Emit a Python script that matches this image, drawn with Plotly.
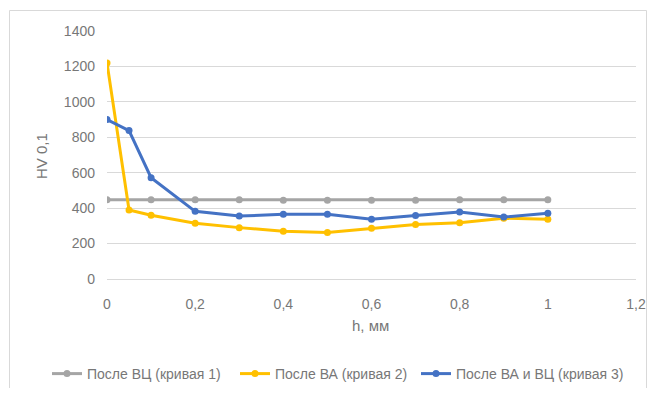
import plotly.graph_objects as go

h_gray = [0, 0.1, 0.2, 0.3, 0.4, 0.5, 0.6, 0.7, 0.8, 0.9, 1.0]
hv_gray = [447, 447, 447, 447, 445, 445, 445, 445, 447, 447, 447]

h_all = [0, 0.05, 0.1, 0.2, 0.3, 0.4, 0.5, 0.6, 0.7, 0.8, 0.9, 1.0]
hv_yellow = [1220, 390, 360, 315, 290, 270, 262, 287, 308, 318, 343, 337]
hv_blue = [900, 838, 572, 382, 355, 365, 365, 337, 358, 378, 350, 371]

names = ["После ВЦ (кривая 1)", "После ВА (кривая 2)", "После ВА и ВЦ (кривая 3)"]
colors = ["#A5A5A5", "#FFC000", "#4472C4"]

x_ticks = [0, 0.2, 0.4, 0.6, 0.8, 1.0, 1.2]
x_tick_labels = ["0", "0,2", "0,4", "0,6", "0,8", "1", "1,2"]
y_ticks = [0, 200, 400, 600, 800, 1000, 1200, 1400]

FONT = "Liberation Sans"
TXT = "#777777"

# page offset from default body margin
OFF = 8
W, H = 640, 380
# plot area in page pixels
PL, PR, PT, PB = 107, 636, 31, 279
L, T = PL - OFF, PT - OFF
R = W - (PR - OFF)
B = H - (PB - OFF)
pw, ph = PR - PL, PB - PT

def px(x):
    return (x - PL) / pw

def py(y):
    return (PB - y) / ph

def cx(x):
    return (x - OFF) / W

def cy(y):
    return 1 - (y - OFF) / H

legend_ids = ["legend", "legend2", "legend3"]
legend_left = [47, 235, 416]

fig = go.Figure()
for xs, ys, name, col, lg in [(h_gray, hv_gray, names[0], colors[0], legend_ids[0]),
                              (h_all, hv_yellow, names[1], colors[1], legend_ids[1]),
                              (h_all, hv_blue, names[2], colors[2], legend_ids[2])]:
    fig.add_trace(go.Scatter(x=xs, y=ys, name=name, mode="lines+markers", legend=lg,
                             line=dict(color=col, width=3),
                             marker=dict(color=col, size=7, symbol="circle")))

bx0, bx1, by0, by1 = px(9.5), px(646.5), py(398), py(10.5)
border = dict(color="#D9D9D9", width=1)

legends = {}
for lg, left in zip(legend_ids, legend_left):
    legends[lg] = dict(orientation="h", xref="container", yref="container",
                       x=cx(left), xanchor="left", y=cy(374), yanchor="middle",
                       font=dict(size=14, color=TXT), itemwidth=30,
                       bgcolor="rgba(0,0,0,0)")

fig.update_layout(
    width=W, height=H,
    margin=dict(l=L, r=R, t=T, b=B, autoexpand=False),
    paper_bgcolor="white", plot_bgcolor="white",
    font=dict(family=FONT, size=14, color=TXT),
    showlegend=True,
    **legends,
    xaxis=dict(range=[0, 1.2], tickvals=x_ticks, ticktext=x_tick_labels,
               showgrid=False, zeroline=False, showline=True, linecolor="#D9D9D9",
               linewidth=1, ticks="", ticklen=0, ticklabelstandoff=12,
               automargin=False, tickfont=dict(size=14, color=TXT)),
    yaxis=dict(range=[0, 1400], tickvals=y_ticks, showgrid=True, gridcolor="#D9D9D9",
               gridwidth=1, zeroline=False, showline=False, ticks="",
               ticklabelstandoff=11, automargin=False,
               tickfont=dict(size=14, color=TXT)),
    annotations=[
        dict(text="HV 0,1", xref="paper", yref="paper", x=px(41), y=py(156),
             xanchor="center", yanchor="middle",
             showarrow=False, textangle=-90, font=dict(size=15, color=TXT)),
        dict(text="h, мм", xref="paper", yref="paper", x=px(370), y=py(325),
             xanchor="center", yanchor="middle",
             showarrow=False, font=dict(size=15, color=TXT)),
    ],
    shapes=[
        dict(type="line", xref="paper", yref="paper", x0=bx0, x1=bx0, y0=by0, y1=by1,
             line=border, layer="below"),
        dict(type="line", xref="paper", yref="paper", x0=bx0, x1=bx1, y0=by1, y1=by1,
             line=border, layer="below"),
        dict(type="line", xref="paper", yref="paper", x0=bx1, x1=bx1, y0=by0, y1=by1,
             line=border, layer="below"),
    ],
)

fig.write_html("out.html")
